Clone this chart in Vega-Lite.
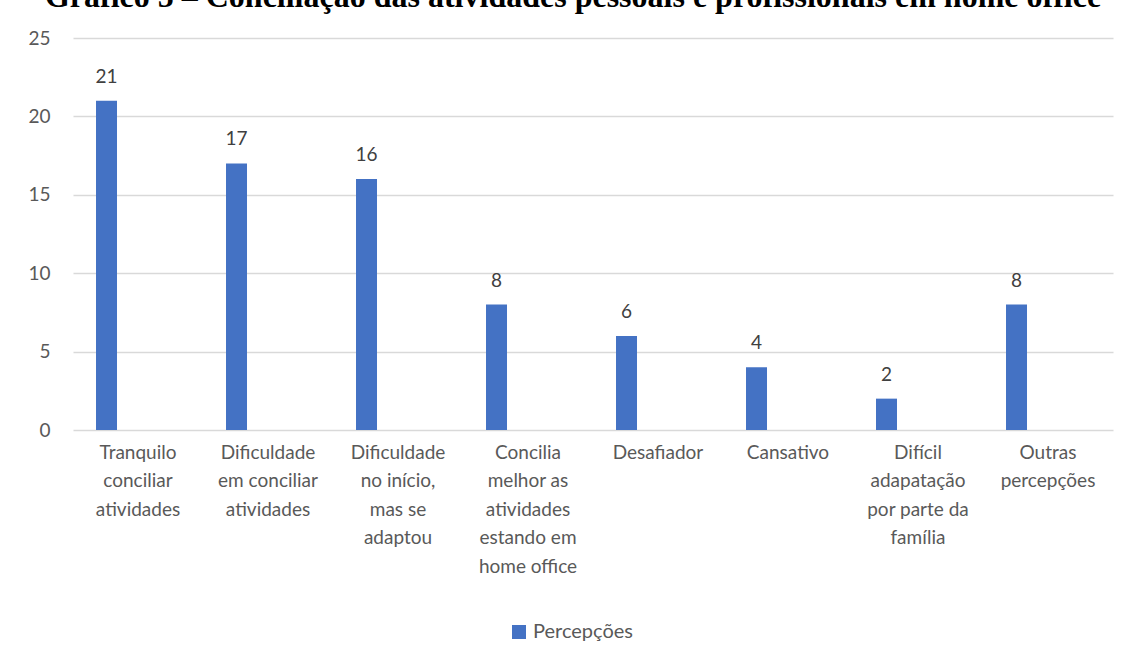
{
  "$schema": "https://vega.github.io/schema/vega-lite/v6.json",
  "autosize": {"type": "none"},
  "width": 1040,
  "height": 392,
  "padding": {"left": 73, "top": 38, "right": 18, "bottom": 234},
  "background": "white",
  "title": {
    "text": "Gráfico 5 – Conciliação das atividades pessoais e profissionais em home office",
    "font": "Liberation Serif",
    "fontWeight": "bold",
    "fontSize": 32,
    "color": "#000000",
    "anchor": "middle",
    "baseline": "alphabetic",
    "offset": 14,
    "dx": -20,
    "dy": 24
  },
  "data": {
    "values": [
      {"categoria": "Tranquilo\nconciliar\natividades", "serie": "Percepções", "valor": 21},
      {"categoria": "Dificuldade\nem conciliar\natividades", "serie": "Percepções", "valor": 17},
      {"categoria": "Dificuldade\nno início,\nmas se\nadaptou", "serie": "Percepções", "valor": 16},
      {"categoria": "Concilia\nmelhor as\natividades\nestando em\nhome office", "serie": "Percepções", "valor": 8},
      {"categoria": "Desafiador", "serie": "Percepções", "valor": 6},
      {"categoria": "Cansativo", "serie": "Percepções", "valor": 4},
      {"categoria": "Difícil\nadapatação\npor parte da\nfamília", "serie": "Percepções", "valor": 2},
      {"categoria": "Outras\npercepções", "serie": "Percepções", "valor": 8}
    ]
  },
  "encoding": {
    "x": {
      "field": "categoria",
      "type": "nominal",
      "sort": null,
      "scale": {"paddingInner": 0.354, "paddingOuter": 0.177},
      "axis": {
        "title": null,
        "labelAngle": 0,
        "labelExpr": "split(datum.label, '\\n')",
        "labelFont": "Lato",
        "labelFontSize": 19,
        "labelColor": "#595959",
        "labelLineHeight": 28.5,
        "labelPadding": 13,
        "labelBaseline": "top",
        "domain": false,
        "ticks": false,
        "grid": false
      }
    },
    "xOffset": {
      "field": "serie",
      "type": "nominal",
      "scale": {"domain": ["Percepções", "S2", "S3", "S4"], "paddingInner": 0, "paddingOuter": 0}
    },
    "y": {
      "field": "valor",
      "type": "quantitative",
      "scale": {"domain": [0, 25]},
      "axis": {
        "title": null,
        "values": [0, 5, 10, 15, 20, 25],
        "labelFont": "Lato",
        "labelFontSize": 19,
        "labelColor": "#595959",
        "labelPadding": 23,
        "domain": false,
        "ticks": false,
        "gridColor": "#d9d9d9",
        "gridWidth": 1.5
      }
    }
  },
  "layer": [
    {
      "mark": {"type": "bar"},
      "encoding": {
        "color": {
          "field": "serie",
          "type": "nominal",
          "scale": {"domain": ["Percepções"], "range": ["#4472C4"]},
          "legend": {
            "title": null,
            "orient": "none",
            "legendX": 436,
            "legendY": 584,
            "padding": 0,
            "direction": "horizontal",
            "symbolType": "square",
            "symbolSize": 196,
            "symbolStrokeWidth": 0,
            "labelFont": "Lato",
            "labelFontSize": 20,
            "labelColor": "#595959"
          }
        }
      }
    },
    {
      "mark": {"type": "text", "font": "Lato", "fontSize": 19, "color": "#404040", "baseline": "middle", "dy": -24},
      "encoding": {
        "text": {"field": "valor", "type": "quantitative"}
      }
    }
  ],
  "config": {
    "view": {"stroke": null}
  }
}
